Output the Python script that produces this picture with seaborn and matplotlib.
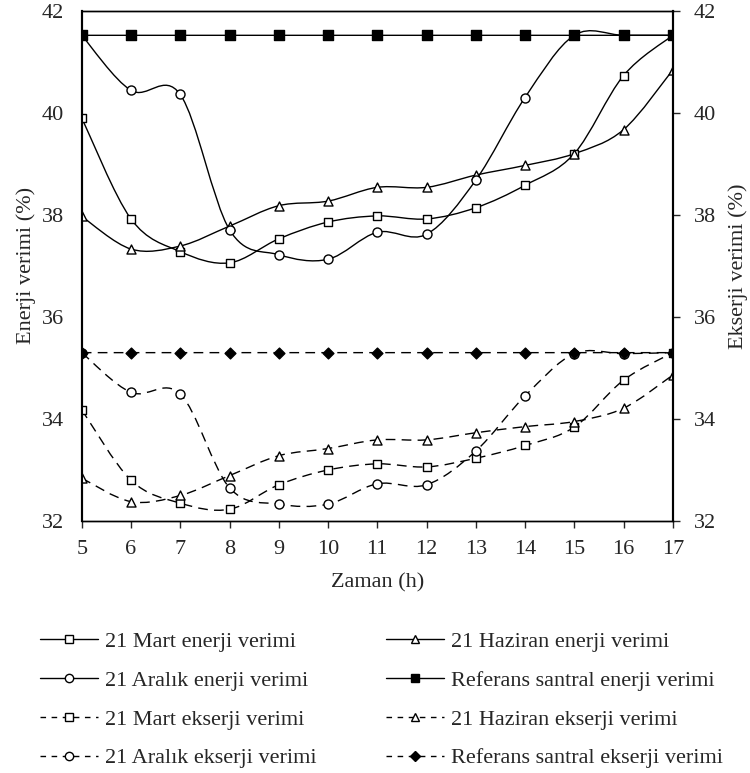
import numpy as np
import pandas as pd
import seaborn as sns
import matplotlib
matplotlib.use("Agg")
import matplotlib.pyplot as plt
from matplotlib.path import Path
from matplotlib.patches import PathPatch
from matplotlib.lines import Line2D

sns.set_theme(style="ticks")
plt.rcParams['font.family'] = ['Liberation Serif', 'DejaVu Serif']

hours = [5, 6, 7, 8, 9, 10, 11, 12, 13, 14, 15, 16, 17]

# energy efficiency (%)
mart_enerji = [39.90, 37.92, 37.28, 37.06, 37.53, 37.86, 37.98, 37.92, 38.14, 38.58, 39.20, 40.73, 41.52]
aralik_enerji = [41.52, 40.44, 40.36, 37.71, 37.22, 37.13, 37.66, 37.62, 38.68, 40.30, 41.52, 41.52, 41.52]
haziran_enerji = [37.97, 37.33, 37.39, 37.78, 38.18, 38.27, 38.54, 38.54, 38.78, 38.97, 39.20, 39.67, 40.84]
ref_enerji = [41.52] * 13

# exergy efficiency (%)
mart_ekserji = [34.18, 32.80, 32.35, 32.23, 32.71, 33.00, 33.12, 33.06, 33.23, 33.48, 33.84, 34.76, 35.30]
aralik_ekserji = [35.30, 34.52, 34.49, 32.65, 32.33, 32.33, 32.73, 32.71, 33.37, 34.45, 35.28, 35.28, 35.30]
haziran_ekserji = [32.84, 32.38, 32.50, 32.89, 33.28, 33.42, 33.59, 33.59, 33.73, 33.85, 33.95, 34.21, 34.86]
ref_ekserji = [35.30] * 13

series = [
    ("21 Mart enerji verimi", mart_enerji, "s", "white", "-", 6.0),
    ("21 Haziran enerji verimi", haziran_enerji, "^", "white", "-", 6.5),
    ("21 Aralık enerji verimi", aralik_enerji, "o", "white", "-", 6.5),
    ("Referans santral enerji verimi", ref_enerji, "s", "black", "-", 6.5),
    ("21 Mart ekserji verimi", mart_ekserji, "s", "white", "--", 6.0),
    ("21 Haziran ekserji verimi", haziran_ekserji, "^", "white", "--", 6.5),
    ("21 Aralık ekserji verimi", aralik_ekserji, "o", "white", "--", 6.5),
    ("Referans santral ekserji verimi", ref_ekserji, "D", "black", "--", 5.5),
]


def smooth_path(x, y):
    # Excel-like smoothed line: cubic Bezier segments through the points
    pts = np.column_stack([x, y]).astype(float)
    n = len(pts)
    verts = [pts[0]]
    codes = [Path.MOVETO]
    for i in range(n - 1):
        p0, p3 = pts[i], pts[i + 1]
        prev = pts[i - 1] if i > 0 else pts[i]
        nxt = pts[i + 2] if i + 2 < n else pts[i + 1]
        verts += [p0 + (p3 - prev) / 6, p3 - (nxt - p0) / 6, p3]
        codes += [Path.CURVE4] * 3
    return Path(verts, codes)


fig = plt.figure(figsize=(7.5, 7.73), dpi=100)
ax = fig.add_axes([0.109, 0.326, 0.788, 0.660])

handles = {}
for i, (name, vals, mk, fc, ls, ms) in enumerate(series):
    dashes = (0, (7, 4.5)) if ls == "--" else "solid"
    patch = PathPatch(smooth_path(hours, vals), facecolor="none", edgecolor="black",
                      lw=1.0, linestyle=dashes, zorder=2 + i * 0.1)
    ax.add_patch(patch)
    df = pd.DataFrame({"Zaman": hours, "verim": vals})
    sns.scatterplot(data=df, x="Zaman", y="verim", marker=mk, s=ms ** 2,
                    color=fc, edgecolor="black", linewidth=1.0, ax=ax,
                    zorder=3 + i * 0.1, legend=False)
    handles[name] = Line2D([], [], color="black", lw=1.0,
                           linestyle=(0, (4, 4)) if ls == "--" else "-",
                           marker=mk, markersize=ms - 0.5, markerfacecolor=fc,
                           markeredgecolor="black", markeredgewidth=1.0)

ax.set_xlim(5, 17)
ax.set_ylim(32, 42)
ax.set_xticks(hours)
ax.set_yticks(np.arange(32, 43, 2))
ax.tick_params(axis="y", length=0, pad=13, labelsize=16)
ax.tick_params(axis="x", direction="out", length=5, width=1.0, pad=9, labelsize=16)
ax.set_xlabel("Zaman (h)", fontsize=16, labelpad=10)
ax.set_ylabel("Enerji verimi (%)", fontsize=16, labelpad=4)

ax2 = ax.twinx()
ax2.set_ylim(32, 42)
ax2.set_yticks(np.arange(32, 43, 2))
ax2.tick_params(axis="y", direction="out", length=5, width=1.0, pad=10, labelsize=16)
ax2.set_ylabel("Ekserji verimi (%)", fontsize=16, labelpad=9)

for a in (ax, ax2):
    for side in ("top", "bottom"):
        a.spines[side].set_linewidth(1.0)
    for side in ("left", "right"):
        a.spines[side].set_linewidth(1.5)
    for s in a.spines.values():
        s.set_color("black")

order = ["21 Mart enerji verimi", "21 Aralık enerji verimi",
         "21 Mart ekserji verimi", "21 Aralık ekserji verimi",
         "21 Haziran enerji verimi", "Referans santral enerji verimi",
         "21 Haziran ekserji verimi", "Referans santral ekserji verimi"]
fig.legend([handles[k] for k in order], order, loc="upper left",
           bbox_to_anchor=(0.053, 0.183), ncol=2, frameon=False, fontsize=16,
           handlelength=2.6, handletextpad=0.35, columnspacing=3.1,
           labelspacing=0.82, borderpad=0, borderaxespad=0)

fig.savefig("out.png", dpi=100)
